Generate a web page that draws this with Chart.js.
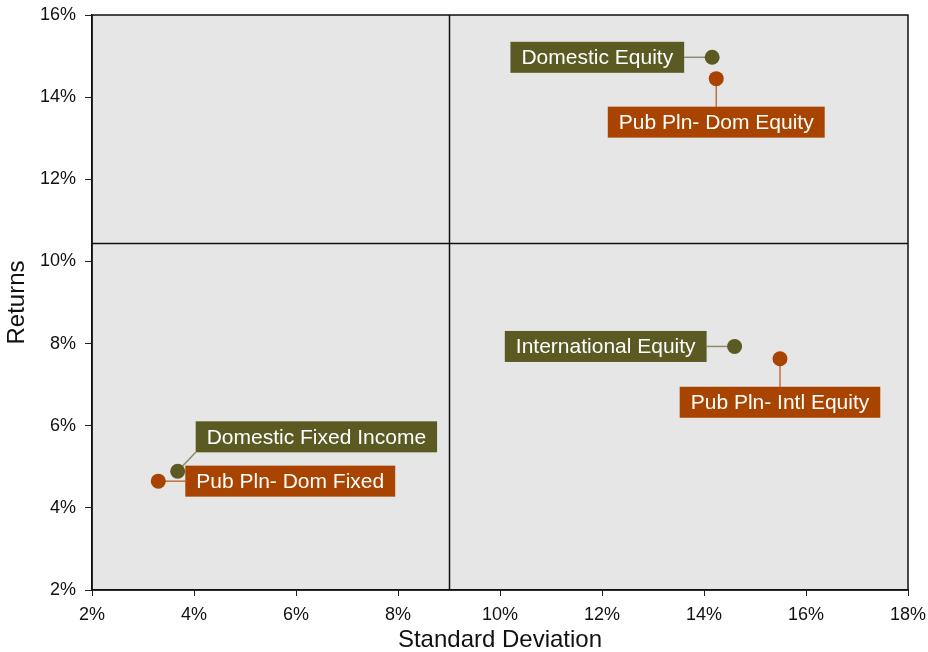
<!DOCTYPE html>
<html>
<head>
<meta charset="utf-8">
<script src="https://cdn.jsdelivr.net/npm/chart.js@4/dist/chart.umd.min.js"></script>
<style>
    html, body { margin: 0; padding: 0; background: #fff; }
    #wrap { width: 928px; height: 652px; position: relative; }
</style>
</head>
<body>
<div id="wrap"><canvas id="riskChart"></canvas></div>
<script>
// asset class composites
const assetNames = ['Domestic Equity', 'International Equity', 'Domestic Fixed Income'];
const assetStdDev = [14.16, 14.60, 3.68];
const assetReturns = [14.97, 7.93, 4.89];

// public plan peer medians
const planNames = ['Pub Pln- Dom Equity', 'Pub Pln- Intl Equity', 'Pub Pln- Dom Fixed'];
const planStdDev = [14.24, 15.49, 3.30];
const planReturns = [14.45, 7.63, 4.65];

// quadrant dividers
const medianStdDev = 9.0;
const medianReturn = 10.44;

const xTicks = [2, 4, 6, 8, 10, 12, 14, 16, 18];
const yTicks = [2, 4, 6, 8, 10, 12, 14, 16];

const OLIVE = '#5b5a22';
const RUST = '#a84400';

// where each label box sits relative to its dot
const assetPlacement = ['left', 'left', 'upright'];
const planPlacement = ['below', 'below', 'right'];

function toPoints(xs, ys) {
    return xs.map(function (x, i) { return { x: x, y: ys[i] }; });
}

function labelBox(ctx, text, pt, placement) {
    ctx.font = '21px "Liberation Sans", Arial, sans-serif';
    const w = ctx.measureText(text).width + 22;
    const h = 31;
    let x, y;
    if (placement === 'left') { x = pt.x - 28 - w; y = pt.y - h / 2; }
    else if (placement === 'right') { x = pt.x + 27; y = pt.y - h / 2; }
    else if (placement === 'below') { x = pt.x - w / 2; y = pt.y + 28; }
    else { x = pt.x + 18; y = pt.y - 19 - h; }
    return { x: x, y: y, w: w, h: h };
}

function noOverhang(s) {
    s.paddingTop = 0;
    s.paddingBottom = 0;
    s.paddingLeft = 0;
    s.paddingRight = 0;
}

const quadrantPlugin = {
    id: 'quadrants',
    beforeDraw: function (chart) {
        const a = chart.chartArea, ctx = chart.ctx;
        ctx.save();
        ctx.fillStyle = '#e6e6e6';
        ctx.fillRect(a.left, a.top, a.right - a.left, a.bottom - a.top);
        ctx.restore();
    },
    beforeDatasetsDraw: function (chart) {
        const a = chart.chartArea, ctx = chart.ctx;
        const xs = chart.scales.x, ys = chart.scales.y;
        const mx = Math.round(xs.getPixelForValue(medianStdDev)) + 0.5;
        const my = Math.round(ys.getPixelForValue(medianReturn)) + 0.5;
        ctx.save();
        ctx.strokeStyle = '#111';
        ctx.lineWidth = 1.5;
        ctx.beginPath();
        ctx.moveTo(mx, a.top); ctx.lineTo(mx, a.bottom);
        ctx.moveTo(a.left, my); ctx.lineTo(a.right, my);
        ctx.stroke();
        ctx.strokeRect(a.left, a.top, a.right - a.left, a.bottom - a.top);

        // connectors
        const groups = [[0, assetNames, assetPlacement, '#8c8b6c'], [1, planNames, planPlacement, '#c0703e']];
        groups.forEach(function (g) {
            const meta = chart.getDatasetMeta(g[0]);
            meta.data.forEach(function (el, i) {
                const b = labelBox(ctx, g[1][i], el, g[2][i]);
                ctx.strokeStyle = g[3];
                ctx.lineWidth = 1.5;
                ctx.beginPath();
                ctx.moveTo(el.x, el.y);
                if (g[2][i] === 'left') ctx.lineTo(b.x + b.w, el.y);
                else if (g[2][i] === 'right') ctx.lineTo(b.x, el.y);
                else if (g[2][i] === 'below') ctx.lineTo(el.x, b.y);
                else ctx.lineTo(b.x, b.y + b.h);
                ctx.stroke();
            });
        });
        ctx.restore();
    },
    afterDatasetsDraw: function (chart) {
        const ctx = chart.ctx;
        const groups = [[0, assetNames, assetPlacement, OLIVE], [1, planNames, planPlacement, RUST]];
        ctx.save();
        groups.forEach(function (g) {
            const meta = chart.getDatasetMeta(g[0]);
            meta.data.forEach(function (el, i) {
                const b = labelBox(ctx, g[1][i], el, g[2][i]);
                ctx.fillStyle = g[3];
                ctx.fillRect(b.x, b.y, b.w, b.h);
                ctx.fillStyle = '#ffffff';
                ctx.textAlign = 'center';
                ctx.textBaseline = 'middle';
                ctx.fillText(g[1][i], b.x + b.w / 2, b.y + b.h / 2 + 1);
            });
        });
        ctx.restore();
    }
};

const tickFont = { family: '"Liberation Sans", Arial, sans-serif', size: 18 };
const titleFont = { family: '"Liberation Sans", Arial, sans-serif', size: 24, lineHeight: 1 };

new Chart(document.getElementById('riskChart').getContext('2d'), {
    type: 'scatter',
    data: {
        datasets: [
            {
                label: 'Asset Class',
                data: toPoints(assetStdDev, assetReturns),
                backgroundColor: OLIVE,
                borderColor: OLIVE,
                pointRadius: 7.5,
                pointHoverRadius: 7.5,
                borderWidth: 0
            },
            {
                label: 'Public Plan',
                data: toPoints(planStdDev, planReturns),
                backgroundColor: RUST,
                borderColor: RUST,
                pointRadius: 7.5,
                pointHoverRadius: 7.5,
                borderWidth: 0
            }
        ]
    },
    options: {
        responsive: true,
        maintainAspectRatio: false,
        animation: false,
        layout: { padding: { top: 15, right: 20, left: 0, bottom: 0 } },
        plugins: {
            legend: { display: false },
            tooltip: { enabled: false }
        },
        scales: {
            x: {
                type: 'linear',
                min: xTicks[0],
                max: xTicks[xTicks.length - 1],
                afterBuildTicks: function (s) { s.ticks = xTicks.map(function (v) { return { value: v }; }); },
                afterFit: function (s) { s.height = 62; noOverhang(s); },
                ticks: {
                    color: '#111',
                    font: tickFont,
                    padding: 8,
                    maxRotation: 0,
                    callback: function (v) { return v + '%'; }
                },
                grid: { drawOnChartArea: false, drawTicks: true, tickLength: 6, tickColor: '#222', tickWidth: 1 },
                border: { display: true, color: '#111', width: 1.5 },
                title: { display: true, text: 'Standard Deviation', color: '#111', font: titleFont, padding: { top: 0, bottom: 0 } }
            },
            y: {
                type: 'linear',
                min: yTicks[0],
                max: yTicks[yTicks.length - 1],
                afterBuildTicks: function (s) { s.ticks = yTicks.map(function (v) { return { value: v }; }); },
                afterFit: function (s) { s.width = 92; noOverhang(s); },
                ticks: {
                    color: '#111',
                    font: tickFont,
                    padding: 9,
                    callback: function (v) { return v + '%'; }
                },
                grid: { drawOnChartArea: false, drawTicks: true, tickLength: 7, tickColor: '#222', tickWidth: 1 },
                border: { display: true, color: '#111', width: 1.5 },
                title: { display: true, text: 'Returns', color: '#111', font: titleFont, padding: { top: 5, bottom: 0 } }
            }
        }
    },
    plugins: [quadrantPlugin]
});
</script>
</body>
</html>
